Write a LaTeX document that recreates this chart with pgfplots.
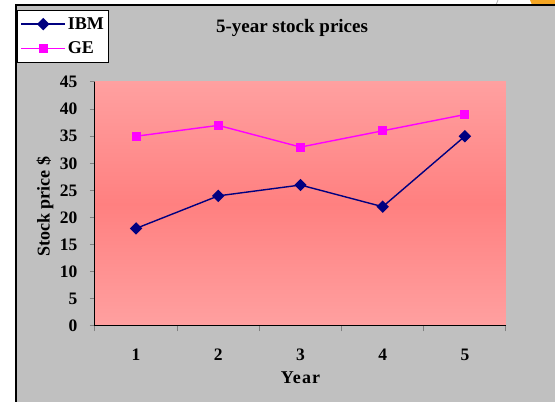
\documentclass[border=0pt]{standalone}
\usepackage{pgfplots}
\pgfplotsset{compat=1.18}
\usepackage{fontspec}
\setmainfont{Liberation Serif}
\definecolor{bggray}{HTML}{C0C0C0}
\definecolor{ibm}{HTML}{000080}
\definecolor{ge}{HTML}{FF00FF}
\definecolor{ptop}{HTML}{FFA0A0}
\definecolor{pmid}{HTML}{FF8080}
\definecolor{orangec}{HTML}{F5A623}
\begin{document}
\begin{tikzpicture}[x=1pt,y=1pt]
\useasboundingbox (0,0) rectangle (555,402);
\fill[white] (0,0) rectangle (555,402);
\fill[bggray] (16,0) rectangle (555,397);
\fill[orangec] (532,397) -- (555,397) -- (555,402) -- (530,402) -- cycle;
\draw[black!30, line width=0.8pt] (496,397) -- (498,402);
\draw[black, line width=2pt] (16,0) -- (16,397) -- (555,397);
\node[font=\bfseries\fontsize{19}{22}\selectfont] at (292,374) {5-year stock prices};
\begin{axis}[
  at={(95pt,76pt)}, anchor=south west,
  width=411pt, height=244pt, scale only axis,
  xmin=0.5, xmax=5.5, ymin=0, ymax=45,
  axis x line*=bottom, axis y line*=left,
  axis line style={-, line width=1pt},
  xtick={1,2,3,4,5}, major x tick style={draw=none},
  minor xtick={0.5,1.5,2.5,3.5,4.5,5.5},
  minor x tick style={line width=1pt},
  ytick={0,5,...,45},
  y tick style={line width=1pt},
  tick align=outside,
  major tick length=5pt, minor tick length=5pt,
  /pgf/number format/assume math mode=true,
  ticklabel style={font=\bfseries\fontsize{17.5}{19}\selectfont},
  xticklabel style={anchor=center, yshift=-24pt},
  yticklabel style={anchor=east, xshift=-9pt},
  xlabel={\addfontfeature{LetterSpace=6}Year},
  ylabel={Stock price \$},
  label style={font=\bfseries\fontsize{18}{20}\selectfont},
  xlabel style={at={(axis description cs:0.5,-0.213)}, anchor=center},
  ylabel style={at={(axis description cs:-0.1217,0.488)}, anchor=center, rotate=0},
  axis background/.style={shade, top color=ptop, bottom color=ptop, middle color=pmid},
  legend style={at={(axis description cs:-0.1898,1.2951)}, anchor=north west,
    draw=black, line width=1pt, fill=white, font=\bfseries\fontsize{18}{20}\selectfont,
    row sep=7pt, inner xsep=3pt, inner ysep=5pt},
  legend cell align=left,
  legend image code/.code={\draw[mark repeat=2,mark phase=2,#1] plot coordinates {(0pt,0pt) (22pt,0pt) (44pt,0pt)};},
]
\addplot[color=ibm, line width=1.4pt, mark=square*, mark size=3.7pt, mark options={rotate=45, solid}]
  coordinates {(1,18) (2,24) (3,26) (4,22) (5,35)};
\addlegendentry{IBM}
\addplot[color=ge, line width=1.4pt, mark=square*, mark size=3.8pt, mark options={solid}]
  coordinates {(1,35) (2,37) (3,33) (4,36) (5,39)};
\addlegendentry{GE}
\end{axis}
\end{tikzpicture}
\end{document}
